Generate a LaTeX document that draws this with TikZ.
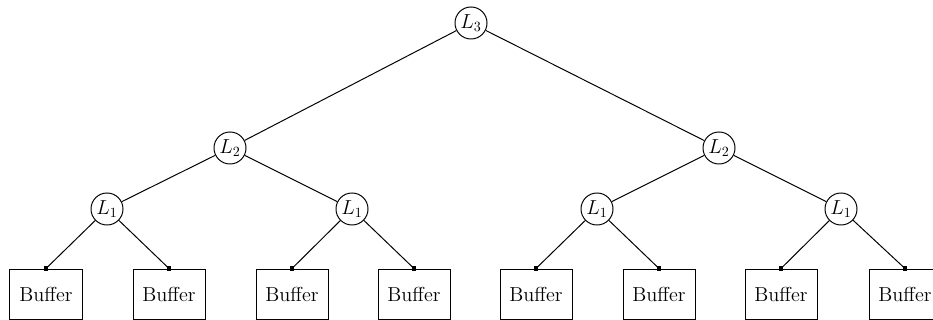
\documentclass[tikz,border=0pt]{standalone}
\begin{document}
\begin{tikzpicture}[x=0.025cm, y=-0.025cm, line width=0.7pt,
    main/.style = {draw, circle, minimum size=0.8cm, inner sep=0pt, font=\Large},
    buf/.style = {draw, rectangle, minimum width=1.8cm, minimum height=1.25cm, inner sep=0pt, font=\Large},
    pin/.style = {fill, inner sep=0pt, minimum size=3.5pt}]

		\useasboundingbox (0,0) rectangle (933,320);

		\node[main] (3) at (471,23) {$L_{3}$};
		\node[main] (2a) at (230,148) {$L_{2}$};
		\node[main] (2b) at (719,148) {$L_{2}$};
		\node[main] (1a) at (107,209) {$L_{1}$};
		\node[main] (1b) at (352,209) {$L_{1}$};
		\node[main] (1c) at (597,209) {$L_{1}$};
		\node[main] (1d) at (841,209) {$L_{1}$};

		\node[buf] (b1) at (46,294) {Buffer};
		\node[buf] (b2) at (169,294) {Buffer};
		\node[buf] (b3) at (292,294) {Buffer};
		\node[buf] (b4) at (414,294) {Buffer};
		\node[buf] (b5) at (536,294) {Buffer};
		\node[buf] (b6) at (659,294) {Buffer};
		\node[buf] (b7) at (781,294) {Buffer};
		\node[buf] (b8) at (905,294) {Buffer};

		\draw (3) -- (2a);
		\draw (3) -- (2b);
		\draw (2a) -- (1a);
		\draw (2a) -- (1b);
		\draw (2b) -- (1c);
		\draw (2b) -- (1d);

		\draw (1a) -- (b1.north) node[pin] {};
		\draw (1a) -- (b2.north) node[pin] {};
		\draw (1b) -- (b3.north) node[pin] {};
		\draw (1b) -- (b4.north) node[pin] {};
		\draw (1c) -- (b5.north) node[pin] {};
		\draw (1c) -- (b6.north) node[pin] {};
		\draw (1d) -- (b7.north) node[pin] {};
		\draw (1d) -- (b8.north) node[pin] {};
	\end{tikzpicture}
\end{document}
